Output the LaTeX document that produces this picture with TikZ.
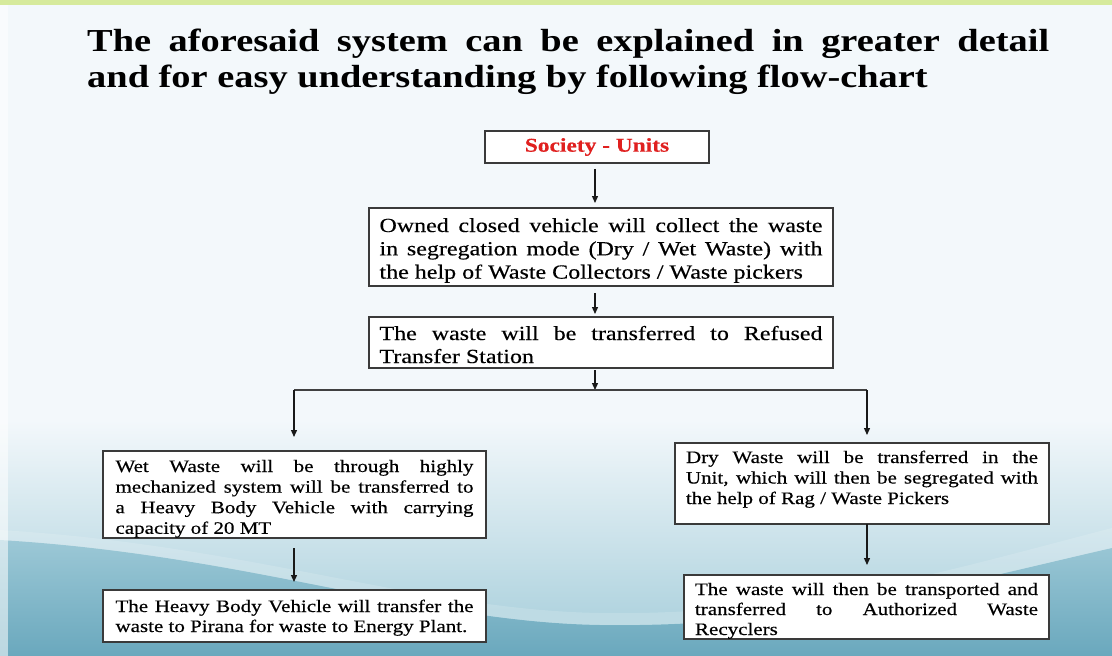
\documentclass[tikz,border=0pt]{standalone}
\usepackage{fontspec}
\setmainfont{Liberation Serif}
\newfontfamily\bodyfont[FakeStretch=1.2,FakeBold=0.4]{Liberation Serif}
\newfontfamily\titlefont[FakeStretch=1.2]{Liberation Serif}
\usetikzlibrary{arrows.meta}
\definecolor{bgc}{HTML}{F3F8FB}
\definecolor{greenband}{HTML}{D6EA9C}
\definecolor{tealA}{HTML}{B3D5E0}
\definecolor{tealM}{HTML}{9CC8D6}
\definecolor{tealB}{HTML}{6AA8BD}
\definecolor{boxc}{HTML}{3A3A3A}
\definecolor{redc}{HTML}{E0201F}
\tolerance=10000
\tikzset{
  box/.style={draw=boxc, line width=1.6pt, fill=white, inner ysep=0pt, outer sep=0pt,
    anchor=base west, align=justify},
  upper/.style={font=\bodyfont\fontsize{20}{23.3}\selectfont},
  lower/.style={font=\bodyfont\fontsize{17.5}{20.6}\selectfont},
  arr/.style={draw=black!90, line width=1.3pt, -{Triangle[length=7pt,width=6pt]}},
  plainline/.style={draw=black!75, line width=1.3pt}
}
\begin{document}
\begin{tikzpicture}[x=1pt,y=-1pt]
\useasboundingbox (0,0) rectangle (1112,656);
% background
\fill[bgc] (0,0) rectangle (1112,656);
\shade[top color=bgc, bottom color=tealA] (0,420) rectangle (1112,610);
\fill[tealA] (0,609) rectangle (1112,656);
% teal wave
\shade[top color=tealM, bottom color=tealB]
  (0,540) .. controls (250,555) and (420,622) .. (600,625)
  .. controls (800,628) and (950,585) .. (1112,548)
  -- (1112,656) -- (0,656) -- cycle;
% soft light streak along the wave
\fill[white, opacity=0.15]
  (0,530) .. controls (250,545) and (420,610) .. (600,613)
  .. controls (800,616) and (950,570) .. (1112,528)
  -- (1112,548) .. controls (950,585) and (800,628) .. (600,625)
  .. controls (420,622) and (250,555) .. (0,540) -- cycle;
\fill[greenband] (0,0) rectangle (1112,4.5);
\fill[white, opacity=0.55] (0,4.5) rectangle (8,656);

% title
\node[anchor=base west, text width=962pt, align=justify, inner sep=0pt,
  font=\titlefont\bfseries\fontsize{32}{36}\selectfont] (title) at (87,51)
  {The aforesaid system can be explained in greater detail\linebreak and for easy understanding by following flow-chart};

% boxes
\node[draw=boxc, line width=1.6pt, fill=white, minimum width=224pt, minimum height=32pt,
  inner sep=0pt, font=\bodyfont\bfseries\fontsize{19.5}{20}\selectfont, text=redc]
  (b1) at (597,147) {Society - Units};

\node[box, upper, inner xsep=10.5pt, text width=443pt, text height=24pt, text depth=54pt]
  (b2) at (369,232)
  {Owned closed vehicle will collect the waste\linebreak in segregation mode (Dry / Wet Waste) with\linebreak the help of Waste Collectors / Waste pickers};

\node[box, upper, inner xsep=10.5pt, text width=443pt, text height=23pt, text depth=28pt,
  font=\bodyfont\fontsize{20}{23}\selectfont]
  (b3) at (369,340)
  {The waste will be transferred to Refused\linebreak Transfer Station};

\node[box, lower, inner xsep=12.5pt, text width=358pt, text height=21pt, text depth=66pt]
  (b4) at (103,472)
  {Wet Waste will be through highly\linebreak mechanized system will be transferred to\linebreak a Heavy Body Vehicle with carrying\linebreak capacity of 20 MT};

\node[box, lower, inner xsep=12.5pt, text width=358pt, text height=22pt, text depth=30pt,
  font=\bodyfont\fontsize{17.5}{20}\selectfont]
  (b5) at (103,612)
  {The Heavy Body Vehicle will transfer the\linebreak waste to Pirana for waste to Energy Plant.};

\node[box, lower, inner xsep=11pt, text width=352pt, text height=20pt, text depth=61pt,
  font=\bodyfont\fontsize{17.5}{20.5}\selectfont]
  (b6) at (675,463)
  {Dry Waste will be transferred in the\linebreak Unit, which will then be segregated with\linebreak the help of Rag / Waste Pickers};

\node[box, lower, inner xsep=11pt, text width=343pt, text height=20pt, text depth=44pt,
  font=\bodyfont\fontsize{17.5}{20}\selectfont]
  (b7) at (684,595)
  {The waste will then be transported and\linebreak transferred\ \ to\ \ Authorized\ \ Waste\linebreak Recyclers};

% connectors
\coordinate (ax) at (595,0);
\coordinate (j) at (595,390);
\coordinate (jl) at (294,390);
\coordinate (jr) at (867,390);
\draw[arr, shorten <=5pt, shorten >=5pt] (b1.south -| ax) -- (b2.north -| ax);
\draw[arr, shorten <=7pt, shorten >=3pt] (b2.south -| ax) -- (b3.north -| ax);
\draw[arr, shorten <=2pt] (b3.south -| ax) -- (j);
\draw[plainline] (jl) -- (jr);
\draw[arr, shorten >=14pt] (jl) -- (jl |- b4.north);
\draw[arr, shorten >=8pt] (jr) -- (jr |- b6.north);
\draw[arr, shorten <=10pt, shorten >=8pt] (b4.south -| jl) -- (b5.north -| jl);
\draw[arr, shorten >=10pt] (b6.south -| jr) -- (b7.north -| jr);
\end{tikzpicture}
\end{document}
